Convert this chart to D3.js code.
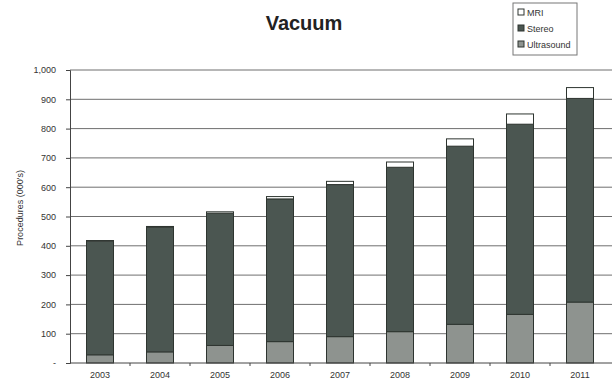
<!DOCTYPE html>
<html>
<head>
<meta charset="utf-8">
<script src="https://cdn.jsdelivr.net/npm/d3@7"></script>
<style>
  body { margin: 0; background: #fff; }
  svg { display: block; font-family: "Liberation Sans", Arial, sans-serif; }
</style>
</head>
<body>
<div id="chart"></div>
<script>
// data (thousands of procedures)
const years = ["2003", "2004", "2005", "2006", "2007", "2008", "2009", "2010", "2011"];
const ultrasound = [28, 38, 60, 73, 90, 107, 132, 166, 208];
const stereo = [388, 425, 451, 487, 519, 561, 608, 649, 695];
const mri = [2, 3, 5, 8, 11, 18, 25, 35, 37];
const yTicks = [0, 100, 200, 300, 400, 500, 600, 700, 800, 900, 1000];

const seriesNames = ["Ultrasound", "Stereo", "MRI"];
const colors = { Ultrasound: "#8e938f", Stereo: "#4b5651", MRI: "#ffffff" };

const W = 612, H = 379;
const plotLeft = 70, plotRight = 610, plotTop = 70, plotBottom = 363;

const svg = d3.select("#chart").append("svg")
  .attr("width", W).attr("height", H);

const rows = years.map((yr, i) => ({ year: yr, Ultrasound: ultrasound[i], Stereo: stereo[i], MRI: mri[i] }));
const stacked = d3.stack().keys(seriesNames)(rows);

const x = d3.scaleBand().domain(years).range([plotLeft, plotRight])
  .paddingInner(0.55).paddingOuter(0.275);
const y = d3.scaleLinear().domain([0, 1000]).range([plotBottom, plotTop]);

// gridlines
svg.append("g")
  .selectAll("line")
  .data(yTicks.filter(d => d > 0))
  .join("line")
  .attr("x1", plotLeft).attr("x2", W)
  .attr("y1", d => y(d)).attr("y2", d => y(d))
  .attr("stroke", "#6f6f6f").attr("stroke-width", 1);

// y axis
const yAxis = svg.append("g")
  .attr("transform", `translate(${plotLeft},0)`)
  .call(d3.axisLeft(y).tickValues(yTicks).tickSize(4).tickPadding(10)
    .tickFormat(d => d === 0 ? "-" : d3.format(",")(d)));
yAxis.select(".domain").attr("stroke", "#444");
yAxis.selectAll(".tick line").attr("stroke", "#444");
yAxis.selectAll("text").attr("font-size", 9).attr("fill", "#333");

// bars
svg.append("g")
  .selectAll("g")
  .data(stacked)
  .join("g")
  .attr("fill", d => colors[d.key])
  .selectAll("rect")
  .data(d => d)
  .join("rect")
  .attr("x", d => x(d.data.year))
  .attr("width", x.bandwidth())
  .attr("y", d => y(d[1]))
  .attr("height", d => y(d[0]) - y(d[1]))
  .attr("stroke", "#2e3530")
  .attr("stroke-width", 1);

// x axis with ticks between categories
const xAxisG = svg.append("g").attr("transform", `translate(0,${plotBottom})`);
xAxisG.append("line")
  .attr("x1", plotLeft).attr("x2", W)
  .attr("stroke", "#444");
xAxisG.selectAll("line.tk")
  .data(years.slice(1))
  .join("line").attr("class", "tk")
  .attr("x1", d => x(d) - x.step() * x.paddingInner() / 2)
  .attr("x2", d => x(d) - x.step() * x.paddingInner() / 2)
  .attr("y1", 0).attr("y2", 3)
  .attr("stroke", "#444");
xAxisG.selectAll("text")
  .data(years)
  .join("text")
  .attr("x", d => x(d) + x.bandwidth() / 2)
  .attr("y", 15)
  .attr("text-anchor", "middle")
  .attr("font-size", 9)
  .attr("fill", "#333")
  .text(d => d);

// title
svg.append("text")
  .attr("x", 304).attr("y", 30)
  .attr("text-anchor", "middle")
  .attr("font-size", 20).attr("font-weight", "bold")
  .attr("fill", "#222")
  .text("Vacuum");

// y label
svg.append("text")
  .attr("transform", "translate(23,208) rotate(-90)")
  .attr("text-anchor", "middle")
  .attr("font-size", 9)
  .attr("fill", "#333")
  .text("Procedures (000's)");

// legend
const legend = svg.append("g").attr("transform", "translate(513,3)");
legend.append("rect")
  .attr("width", 64).attr("height", 52)
  .attr("fill", "#fff").attr("stroke", "#777");
const legendItems = ["MRI", "Stereo", "Ultrasound"];
legend.selectAll("g.item")
  .data(legendItems)
  .join("g").attr("class", "item")
  .attr("transform", (d, i) => `translate(5,${9 + i * 16})`)
  .each(function (d) {
    const g = d3.select(this);
    g.append("rect")
      .attr("x", 0).attr("y", -3).attr("width", 6).attr("height", 6)
      .attr("fill", colors[d]).attr("stroke", "#2e3530");
    g.append("text")
      .attr("x", 9).attr("y", 3.5)
      .attr("font-size", 9)
      .attr("fill", "#333")
      .text(d);
  });
</script>
</body>
</html>
